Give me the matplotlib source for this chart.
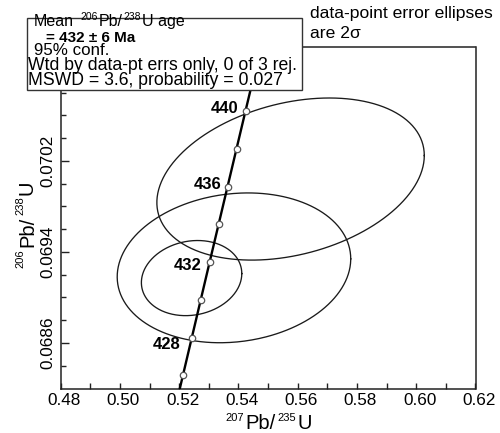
import numpy as np
import matplotlib
matplotlib.use("Agg")
import matplotlib.pyplot as plt
import matplotlib.transforms as mtransforms
from matplotlib.patches import Rectangle

plt.rcParams['font.family'] = ['Liberation Sans', 'DejaVu Sans']

# ---- data ----
ell_x207 = [0.5576, 0.5385, 0.5242]      # 207Pb/235U centres
ell_y206 = [0.07004, 0.06926, 0.06917]   # 206Pb/238U centres
ell_sx = [0.02256, 0.0197, 0.00847]      # 1 sigma 207/235
ell_sy = [0.000356, 0.000329, 0.000165]  # 1 sigma 206/238
ell_rho = [0.29, 0.12, 0.12]
sigma_level = 2

age_marks = [426, 428, 430, 432, 434, 436, 438, 440]   # Ma
age_labels = [428, 432, 436, 440]
curve_ages = [424, 446]

lam238 = 1.55125e-10
lam235 = 9.8485e-10

xticks_major = [0.48, 0.50, 0.52, 0.54, 0.56, 0.58, 0.60, 0.62]
yticks_major = [0.0686, 0.0694, 0.0702]
xlim = (0.48, 0.62)
ylim = (0.0682, 0.0712)

W, H = 500, 433
fig = plt.figure(figsize=(W / 100, H / 100), dpi=100)
L, R, B, T = 60.6, 475.5, 388.5, 47
ax = fig.add_axes([L / W, 1 - B / H, (R - L) / W, (B - T) / H])
renderer = fig.canvas.get_renderer()

def fp(x, y):
    return (x / W, 1 - y / H)

def rich(x, y, pieces, rotation=0, ha='left', zorder=7):
    """pieces: (text, size, rise_px, weight, gap_before_px); x,y = baseline start (px from top-left)"""
    texts, widths = [], []
    for s, size, rise, weight, gap in pieces:
        tt = fig.text(0, 0, s, fontsize=size, fontweight=weight, ha='left',
                      va='baseline', rotation_mode='anchor', zorder=zorder)
        widths.append(tt.get_window_extent(renderer).width)
        texts.append(tt)
    total = sum(widths) + sum(p[4] for p in pieces)
    pos = -total / 2 if ha == 'center' else 0
    for tt, w, p in zip(texts, widths, pieces):
        pos += p[4]
        if rotation == 0:
            tt.set_position(fp(x + pos, y - p[2]))
        else:
            tt.set_position(fp(x - p[2], y - pos))
            tt.set_rotation(90)
        pos += w

def conc(t_ma):
    t = np.asarray(t_ma) * 1e6
    return np.exp(lam235 * t) - 1, np.exp(lam238 * t) - 1

ages = np.linspace(curve_ages[0], curve_ages[1], 400)
cx, cy = conc(ages)
ax.plot(cx, cy, color='black', lw=1.7, zorder=3, solid_capstyle='butt')
mx, my = conc(age_marks)
ax.plot(mx, my, 'o', ms=4.6, mfc='white', mec='#555555', mew=0.9, zorder=4)

offsets = {440: (-7.5, 2), 436: (-6.3, 2.4), 432: (-8.3, -3.3), 428: (-11.7, -7)}
for a in age_labels:
    x, y = conc(a)
    ax.annotate(str(a), (x, y), xytext=offsets[a], textcoords='offset pixels',
                ha='right', va='center', fontsize=12, fontweight='bold', zorder=5)

t = np.linspace(0, 2 * np.pi, 400)
for x0, y0, sx, sy, r in zip(ell_x207, ell_y206, ell_sx, ell_sy, ell_rho):
    dx = sigma_level * sx * np.cos(t)
    dy = sigma_level * sy * (r * np.cos(t) + np.sqrt(1 - r * r) * np.sin(t))
    ax.plot(x0 + dx, y0 + dy, color='#1a1a1a', lw=0.95, zorder=2)

ax.set_xlim(*xlim)
ax.set_ylim(*ylim)
ax.set_xticks(xticks_major)
ax.set_xticklabels([f"{v:.2f}" for v in xticks_major])
ax.set_xticks(np.arange(0.49, 0.62, 0.02), minor=True)
ax.set_yticks(yticks_major)
ax.set_yticklabels([f"{v:.4f}" for v in yticks_major], rotation=90, va='center')
ax.set_yticks([v for v in np.arange(0.0684, 0.07121, 0.0002)
               if min(abs(v - m) for m in yticks_major) > 1e-7], minor=True)
ax.tick_params(which='both', direction='in', labelsize=12.3, color='#222222')
ax.tick_params(axis='x', which='major', length=4, width=1, pad=3.5)
ax.tick_params(axis='x', which='minor', length=4, width=1)
ax.tick_params(axis='y', which='major', length=6, width=1, pad=4)
ax.tick_params(axis='y', which='minor', length=3.5, width=1)
shift = mtransforms.ScaledTranslation(3.5 / 100, 0, fig.dpi_scale_trans)
for lab in ax.get_xticklabels():
    lab.set_transform(lab.get_transform() + shift)
for s in ax.spines.values():
    s.set_color('#222222')
    s.set_linewidth(1.1)

# axis titles with superscript mass numbers
rich(268.5, 429.3, [('207', 8, 8.5, 'normal', 0), ('Pb/', 14.5, 0, 'normal', 1.5),
                    ('235', 8, 8.5, 'normal', 2.5), ('U', 14.5, 0, 'normal', 1)],
     ha='center', zorder=3)
rich(33, 224, [('206', 8, 10, 'normal', 0), ('Pb/', 14.5, 0, 'normal', 1.5),
               ('238', 8, 10, 'normal', 2.5), ('U', 14.5, 0, 'normal', 1)],
     rotation=90, ha='center', zorder=3)

# result box
fig.add_artist(Rectangle(fp(26.7, 90), (301.7 - 26.7) / W, (90 - 18.3) / H,
                         transform=fig.transFigure, facecolor='white',
                         edgecolor='#333333', lw=1.0, zorder=6))
rich(34, 26, [('Mean', 11.5, 0, 'normal', 0), ('206', 7.5, 5.5, 'normal', 6),
              ('Pb/', 11.5, 0, 'normal', 1), ('238', 7.5, 5.5, 'normal', 1.5),
              ('U age', 11.5, 0, 'normal', 1)])
fig.text(*fp(46.5, 42), '= 432 ± 6 Ma', fontsize=11, fontweight='bold',
         ha='left', va='baseline', zorder=7)
fig.text(*fp(34, 55), '95% conf.', fontsize=12.2, ha='left', va='baseline', zorder=7)
fig.text(*fp(28.3, 70), 'Wtd by data-pt errs only, 0 of 3 rej.', fontsize=12.7,
         ha='left', va='baseline', zorder=7)
fig.text(*fp(28.3, 85), 'MSWD = 3.6, probability = 0.027', fontsize=12.7,
         ha='left', va='baseline', zorder=7)

fig.text(*fp(310, 18.3), 'data-point error ellipses', fontsize=12.6, ha='left', va='baseline')
fig.text(*fp(310, 38.3), f'are {sigma_level}σ', fontsize=12.6, ha='left', va='baseline')

fig.savefig('out.png', dpi=100)
